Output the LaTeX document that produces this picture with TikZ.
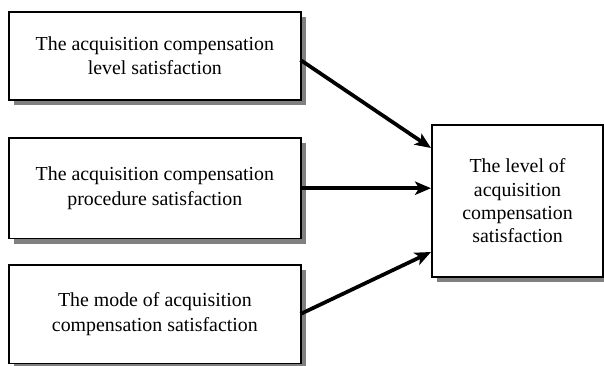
\documentclass[tikz,border=0pt]{standalone}
\usepackage{fontspec}
\setmainfont{Liberation Serif}
\usetikzlibrary{arrows.meta}
\definecolor{shadowgray}{RGB}{128,128,128}
\begin{document}
\begin{tikzpicture}[x=0.75pt,y=-0.75pt,
  box/.style={draw=black,line width=1.3pt,fill=white,align=center,inner sep=0pt,
    font=\fontsize{14.9}{18.5}\selectfont},
  shadowfill/.style={fill=shadowgray},
  conn/.style={line width=2.8pt,-{Stealth[length=12pt,width=10pt,inset=3pt]}}]
\useasboundingbox (0,0) rectangle (604,365);
% shadows
\fill[shadowfill] (14,17) rectangle (306,105);
\fill[shadowfill] (14,143) rectangle (306,244);
\fill[shadowfill] (14,270) rectangle (306,370);
\fill[shadowfill] (437,130) rectangle (610,282);
% boxes
\node[box,minimum width=219pt,minimum height=66pt,anchor=north west] (b1) at (8,11)
  {The acquisition compensation\\level satisfaction};
\node[box,minimum width=219pt,minimum height=75.5pt,anchor=north west] (b2) at (8,137)
  {The acquisition compensation\\procedure satisfaction};
\node[box,minimum width=219pt,minimum height=74pt,anchor=north west] (b3) at (8,264)
  {The mode of acquisition\\compensation satisfaction};
\node[box,minimum width=128.5pt,minimum height=114pt,anchor=north west,
  font=\fontsize{14.9}{17.5}\selectfont] (b4) at (431,124)
  {The level of\\acquisition\\compensation\\satisfaction};
\coordinate (s1) at (300.5,60);
\coordinate (e1) at (431,148);
\coordinate (s3) at (300.5,314);
\coordinate (e3) at (431,252);
\draw[conn] (s1) -- (e1);
\draw[conn] (b2.east) -- (b2.east -| b4.west);
\draw[conn] (s3) -- (e3);
\end{tikzpicture}
\end{document}
